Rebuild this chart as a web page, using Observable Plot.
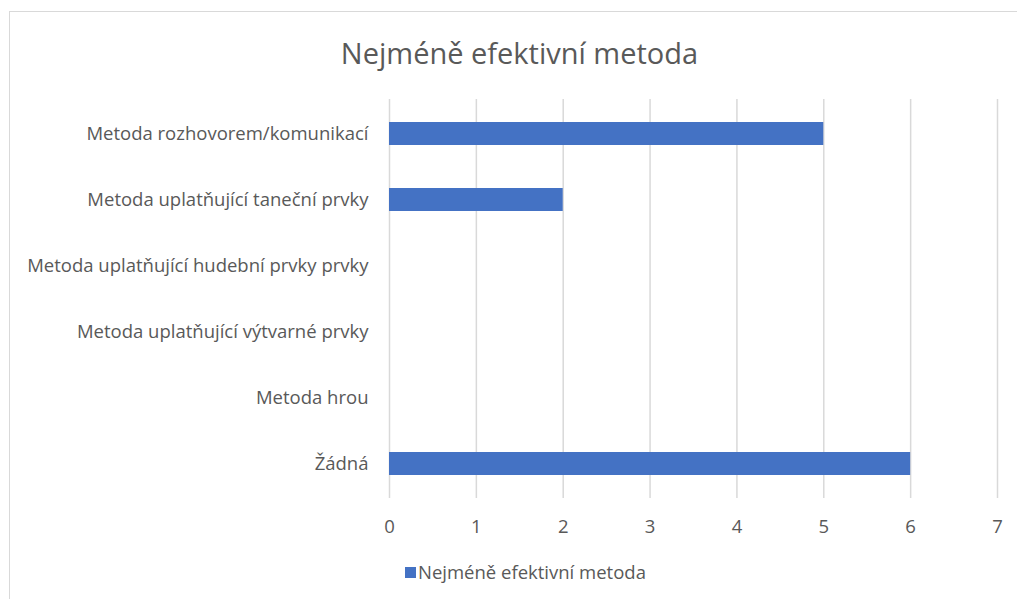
<!DOCTYPE html>
<html>
<head>
<meta charset="utf-8">
<script src="https://cdn.jsdelivr.net/npm/d3@7"></script>
<script src="https://cdn.jsdelivr.net/npm/@observablehq/plot@0.6"></script>
<style>
  html, body { margin: 0; padding: 0; background: #fff; overflow: hidden; width: 1017px; height: 599px; }
  #frame { position: absolute; left: 9px; top: 11px; width: 1030px; height: 640px; border: 1.5px solid #d9d9d9; box-sizing: border-box; }
  #title { position: absolute; left: 9px; width: 1021px; top: 34px; text-align: center; font-family: "Open Sans", sans-serif; font-size: 29px; color: #595959; line-height: 38px; white-space: nowrap; }
  #chart { position: absolute; left: 0; top: 80px; }
  #legend { position: absolute; left: 405px; top: 560px; font-family: "Open Sans", sans-serif; font-size: 18.5px; color: #595959; display: flex; align-items: center; line-height: 24px; white-space: nowrap; }
  #legend .sw { width: 11px; height: 11px; margin-right: 2px; }
</style>
</head>
<body>
<div id="frame"></div>
<div id="title"></div>
<div id="chart"></div>
<div id="legend"></div>
<script>
const chartTitle = "Nejméně efektivní metoda";
const seriesName = "Nejméně efektivní metoda";
const categories = [
  "Metoda rozhovorem/komunikací",
  "Metoda uplatňující taneční prvky",
  "Metoda uplatňující hudební prvky prvky",
  "Metoda uplatňující výtvarné prvky",
  "Metoda hrou",
  "Žádná"
];
const values = [5, 2, 0, 0, 0, 6];
const xTicks = [0, 1, 2, 3, 4, 5, 6, 7];
const barColor = "#4472c4";

const data = categories.map((c, i) => ({category: c, value: values[i]}));

document.getElementById("title").textContent = chartTitle;

const plot = Plot.plot({
  width: 1017,
  height: 470,
  marginTop: 19,
  marginBottom: 52,
  marginLeft: 389,
  marginRight: 20,
  style: {fontFamily: "Open Sans, sans-serif", fontSize: "18.5px", color: "#595959", background: "transparent"},
  x: {domain: [0, 7], ticks: xTicks, label: null},
  y: {domain: categories, paddingInner: 0.654, paddingOuter: 0.327, label: null},
  marks: [
    Plot.gridX(xTicks, {stroke: "#d9d9d9", strokeOpacity: 1, strokeWidth: 1.5}),
    Plot.barX(data, {x: "value", y: "category", fill: barColor}),
    Plot.axisX(xTicks, {tickSize: 0, tickPadding: 21, fontSize: 18.5, fill: "#595959", label: null}),
    Plot.axisY(categories, {tickSize: 0, tickPadding: 21, fontSize: 18.5, fill: "#595959", label: null})
  ]
});
document.getElementById("chart").appendChild(plot);

const legend = document.getElementById("legend");
const sw = document.createElement("span");
sw.className = "sw";
sw.style.background = barColor;
const lt = document.createElement("span");
lt.textContent = seriesName;
legend.appendChild(sw);
legend.appendChild(lt);
</script>
</body>
</html>
